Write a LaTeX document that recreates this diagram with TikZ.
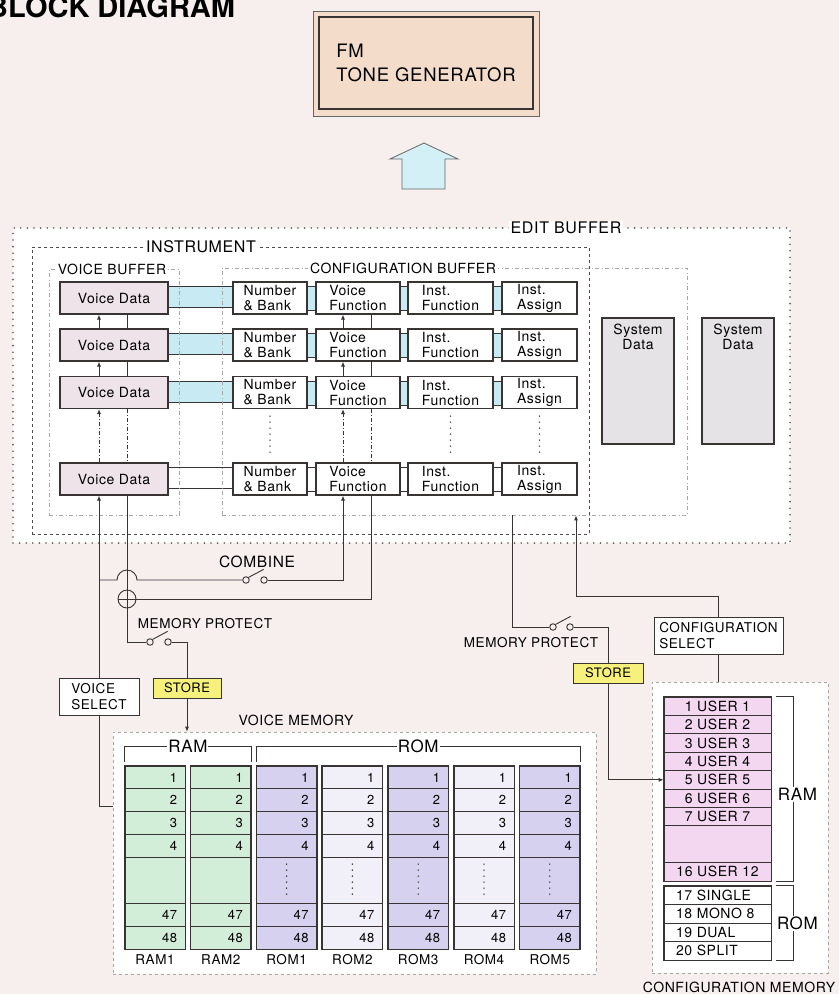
\documentclass[tikz,border=0pt]{standalone}
\usepackage{fontspec}
\setmainfont{TeX Gyre Heros}[LetterSpace=4]
\usepackage{xcolor}
\usepackage{tikz}
\usetikzlibrary{arrows.meta}
\definecolor{pagebg}{HTML}{F7EEEE}
\definecolor{linec}{HTML}{383434}
\definecolor{fmfill}{HTML}{F4DCCB}
\definecolor{upfill}{HTML}{D3F0F7}
\definecolor{vdfill}{HTML}{EDE3E9}
\definecolor{linkblue}{HTML}{C8EBF3}
\definecolor{sysfill}{HTML}{E6E3E7}
\definecolor{storefill}{HTML}{F5F17C}
\definecolor{ramgreen}{HTML}{D3EED8}
\definecolor{romdark}{HTML}{D6D1EE}
\definecolor{romlight}{HTML}{F1EFF8}
\definecolor{cfgpink}{HTML}{F3D6EF}
\newcommand{\setsz}[2]{\fontsize{#1}{#2}\selectfont}

\begin{document}
\begin{tikzpicture}[
  x=1pt, y=-1pt,
  font=\setsz{14}{15},
  >={Latex[length=5pt,width=4pt]},
  wire/.style={draw=linec, line width=0.9pt},
  dashdot/.style={dash pattern=on 4pt off 2pt on 1pt off 2pt},
  box/.style={draw=linec, line width=1.1pt, minimum height=32pt, inner sep=0pt, align=left},
  vdbox/.style={box, fill=vdfill, minimum width=108pt, align=center},
  fnbox/.style={box, fill=white},
  sysbox/.style={draw=linec, line width=1.1pt, fill=sysfill, minimum width=72pt,
    minimum height=126pt},
  editframe/.style={draw=black!65, fill=white, line width=1.8pt, line cap=round,
    dash pattern=on 0pt off 6.6pt, inner sep=0pt},
  instframe/.style={draw=black!70, line width=0.7pt, dash pattern=on 3pt off 3pt, inner sep=0pt},
  bufframe/.style={draw=black!35, line width=0.7pt,
    dash pattern=on 4pt off 2.5pt on 1pt off 2.5pt, inner sep=0pt},
  memframe/.style={draw=black!35, fill=white, line width=0.7pt,
    dash pattern=on 3pt off 3pt, inner sep=0pt},
  framelabel/.style={fill=white, inner xsep=2pt, inner ysep=1pt},
  selbox/.style={draw=linec, line width=1pt, fill=white, align=left, inner xsep=5pt,
    font=\setsz{13.5}{16}},
  storebox/.style={draw=linec, line width=1pt, fill=storefill, minimum width=68pt,
    minimum height=20pt, inner sep=0pt, font=\setsz{13}{13}},
  contact/.style={circle, draw=linec, line width=0.9pt, fill=pagebg, minimum size=6.5pt,
    inner sep=0pt},
  lever/.style={wire},
  swlabel/.style={font=\setsz{13.5}{14}},
  dotcol/.style={draw=linec, line width=1.6pt, line cap=round, dash pattern=on 0pt off 6pt},
  memcell/.style={draw=linec, line width=0.8pt, minimum width=60pt, text width=44pt,
    inner xsep=8pt, inner ysep=0pt, align=right, font=\setsz{13}{13}},
  cfgcell/.style={draw=linec, line width=0.8pt, text width=83pt, inner xsep=12pt,
    inner ysep=0pt, minimum height=18.4pt, font=\setsz{14}{14}},
  brlabel/.style={fill=white, inner sep=1pt, font=\setsz{17}{17}},
  colframe/.style={draw=linec, line width=1.3pt}
]
  \fill[pagebg] (0,0) rectangle (839,994);
  \useasboundingbox (0,0) rectangle (839,994);

  \node[anchor=base west, inner sep=0pt,
    font=\bfseries\addfontfeature{LetterSpace=0}\setsz{29}{29}] (title) at (-13,17.3)
    {BLOCK DIAGRAM};

  \node[draw=black!60, line width=0.8pt, fill=fmfill, minimum width=226pt,
    minimum height=105pt] (fmframe) at (426,63.5) {};
  \node[draw=linec, line width=1.3pt, fill=fmfill, minimum width=214pt, minimum height=92pt,
    align=left, font=\setsz{18.5}{24}] (fmgen) at (426,63) {FM\\TONE GENERATOR};
  \draw[draw=black!60, line width=0.8pt, fill=upfill] (424,143) -- (458,159) -- (445,159)
    -- (445,189) -- (402,189) -- (402,159) -- (390,159) -- cycle;

  \node[editframe, minimum width=777pt, minimum height=315pt] (editbuf) at (401.5,385.5) {};

  \foreach \r/\y in {1/298, 2/345, 3/392.5, 4/479} {
    \node[vdbox] (vd\r) at (114,\y) {Voice Data};
    \node[fnbox, minimum width=74pt] (nb\r) at (270,\y) {Number\\\& Bank};
    \node[fnbox, minimum width=84pt] (vf\r) at (358,\y) {Voice\\Function};
    \node[fnbox, minimum width=85pt] (instf\r) at (450.5,\y) {Inst.\\Function};
    \node[fnbox, minimum width=75pt] (insta\r) at (539.5,\y) {Inst.\\Assign};
  }
  \node[sysbox, label={[anchor=north, align=center, yshift=-3pt]north:System\\Data}]
    (sys1) at (638,381) {};
  \node[sysbox, label={[anchor=north, align=center, yshift=-3pt]north:System\\Data}]
    (sys2) at (738,381) {};

  \foreach \r/\fc in {1/linkblue, 2/linkblue, 3/linkblue, 4/white} {
    \foreach \a/\b/\bt in {vd/nb/7, nb/vf/4, vf/instf/4, instf/insta/4} {
      \fill[\fc] ([yshift=-5pt]\a\r.north east) rectangle ([yshift=\bt pt]\b\r.south west);
      \draw[wire] ([yshift=-5pt]\a\r.north east) -- ([yshift=-5pt]\b\r.north west);
      \draw[wire] ([yshift=\bt pt]\a\r.south east) -- ([yshift=\bt pt]\b\r.south west);
    }
  }

  \node[instframe, minimum width=557pt, minimum height=287pt] (instr) at (310.5,390.5) {};
  \node[bufframe, minimum width=130pt, minimum height=246pt] (voicebuf) at (114,392) {};
  \node[bufframe, minimum width=465pt, minimum height=247pt] (confbuf) at (454.5,391.5) {};
  \node[framelabel, font=\setsz{16}{16}] (editlab) at (566,228) {EDIT BUFFER};
  \node[framelabel, font=\setsz{16}{16}] (instlab) at (201,247) {INSTRUMENT};
  \node[framelabel] (vblab) at (112,269) {VOICE BUFFER};
  \node[framelabel] (cblabel) at (403,268) {CONFIGURATION BUFFER};

  \foreach \col in {vd, vf} {
    \foreach \u/\l in {1/2, 2/3} {
      \draw[wire,->] ([xshift=-15pt]\col\l.north) -- ([xshift=-15pt]\col\u.south);
      \draw[wire] ([xshift=13pt]\col\u.south) -- ([xshift=13pt]\col\l.north);
    }
    \draw[wire, dashdot, ->] ([xshift=-15pt]\col4.north) -- ([xshift=-15pt]\col3.south);
    \draw[wire, dashdot] ([xshift=13pt]\col3.south) -- ([xshift=13pt]\col4.north);
  }
  \foreach \col in {nb, instf, insta}
    \draw[dotcol] ([yshift=-7pt]\col3.south) -- ([yshift=10pt]\col4.north);

  % voice memory
  \node[memframe, minimum width=483pt, minimum height=242pt] (vmem) at (354.5,853) {};
  \node[font=\setsz{14}{14}] (vmemlab) at (296,720) {VOICE MEMORY};
  \foreach \nm/\colr [count=\c from 0] in {RAM1/ramgreen, RAM2/ramgreen, ROM1/romdark,
      ROM2/romlight, ROM3/romdark, ROM4/romlight, ROM5/romdark} {
    \pgfmathsetmacro{\cx}{155+65.8*\c}
    \foreach \n/\j in {1/0, 2/1, 3/2, 4/3, 47/6, 48/7}
      \node[memcell, fill=\colr, minimum height=22.875pt] (m\c-\n) at (\cx,777.4+22.875*\j) {\n};
    \node[memcell, fill=\colr, minimum height=45.75pt] (m\c-mid) at (\cx,880.4) {};
    \draw[colframe] (m\c-1.north west) rectangle (m\c-48.south east);
    \node[font=\setsz{13.5}{14}] (lab\c) at (\cx,960) {\nm};
  }
  \foreach \c in {2,...,6}
    \draw[dotcol] ([yshift=-7pt]m\c-mid.north) -- ([yshift=6pt]m\c-mid.south);
  \draw[wire] ([yshift=4pt]m0-1.north west) -- ([yshift=19pt]m0-1.north west)
    -- node[brlabel] {RAM} ([yshift=19pt]m1-1.north east) -- ([yshift=4pt]m1-1.north east);
  \draw[wire] ([yshift=4pt]m2-1.north west) -- ([yshift=19pt]m2-1.north west)
    -- node[brlabel] {ROM} ([yshift=19pt]m6-1.north east) -- ([yshift=4pt]m6-1.north east);

  % configuration memory
  \node[memframe, minimum width=176pt, minimum height=291pt] (cmem) at (740,827.5) {};
  \node[font=\setsz{14}{14}] (cmemlab) at (739,987) {CONFIGURATION MEMORY};
  \foreach \i in {1,...,7}
    \node[cfgcell, fill=cfgpink, align=center] (cu\i) at (717.5,687.8+18.4*\i) {\i\ USER \i};
  \node[cfgcell, fill=cfgpink, minimum height=36.8pt] (cugap) at (717.5,844.2) {};
  \node[cfgcell, fill=cfgpink, align=center] (cu16) at (717.5,871.8) {16 USER 12};
  \foreach \i/\t in {17/SINGLE, 18/MONO 8, 19/DUAL, 20/SPLIT}
    \node[cfgcell, fill=white, align=left, minimum height=18.5pt] (cr\i)
      at (717.5,895.25+18.5*\i-314.5) {\i\ \t};
  \draw[colframe] (cu1.north west) rectangle (cu16.south east);
  \draw[colframe] (cr17.north west) rectangle (cr20.south east);
  \draw[wire] ([xshift=5pt]cu1.north east) -- ([xshift=22pt]cu1.north east)
    -- node[brlabel, pos=0.53, xshift=4pt] {RAM} ([xshift=22pt]cu16.south east)
    -- ([xshift=5pt]cu16.south east);
  \draw[wire] ([xshift=5pt]cr17.north east) -- ([xshift=22pt]cr17.north east)
    -- node[brlabel, xshift=4pt] {ROM} ([xshift=22pt]cr20.south east)
    -- ([xshift=5pt]cr20.south east);

  % selects, switches and stores
  \node[selbox, minimum width=80pt, minimum height=37pt] (vsel) at (99,696.5) {VOICE\\SELECT};
  \node[storebox] (store1) at (187,688) {STORE};
  \node[contact] (mpa) at (150,642) {};
  \node[contact] (mpb) at (168,642) {};
  \node[swlabel] (mplab) at (205,624) {MEMORY PROTECT};
  \node[circle, draw=linec, line width=0.9pt, fill=pagebg, minimum size=18pt, inner sep=0pt,
    path picture={\draw[linec, line width=0.8pt]
      (path picture bounding box.north) -- (path picture bounding box.south)
      (path picture bounding box.west) -- (path picture bounding box.east);}] (mix) at (127,599) {};
  \node[contact] (cba) at (246,580) {};
  \node[contact] (cbb) at (264,580) {};
  \node[font=\setsz{15.5}{16}] (cblab) at (257,562) {COMBINE};

  \node[contact] (mqa) at (553,627) {};
  \node[contact] (mqb) at (570,627) {};
  \node[swlabel] (mqlab) at (531,643) {MEMORY PROTECT};
  \node[storebox, minimum width=70pt] (store2) at (608,673) {STORE};
  \node[selbox, minimum width=129pt, minimum height=37pt] (cfgsel) at (718.5,635.5)
    {CONFIGURATION\\SELECT};

  \coordinate (vsturn) at (99,806);
  \coordinate (cbjoin) at (99,580);
  \coordinate (cbout) at (512,515);
  \coordinate (csturn) at (576,596);

  \draw[wire] (vmem.west |- vsturn) -- (vsturn) -- (vsel.south);
  \draw[wire,->] (vsel.north) -- ([xshift=-15pt]vd4.south);
  \draw[wire] (cbjoin) -- ++(18,0) arc[start angle=180, end angle=0, radius=10pt] -- (cba.west);
  \draw[lever] (cba.north east) -- ++(15,-8);
  \draw[wire,->] (cbb.east) -| ([xshift=-15pt]vf4.south);
  \draw[wire] ([xshift=13pt]vd4.south) -- (mix.north);
  \draw[wire] (mix.east) -| ([xshift=13pt]vf4.south);
  \draw[wire] (mix.south) |- (mpa.west);
  \draw[lever] (mpa.north east) -- ++(15,-8);
  \draw[wire] (mpb.east) -| (store1.north);
  \draw[wire,->] (store1.south) -- (store1.south |- vmem.north);

  \draw[wire] (cbout) |- (mqa.west);
  \draw[lever] (mqa.north east) -- ++(15,-8);
  \draw[wire] (mqb.east) -| (store2.north);
  \draw[wire,->] (store2.south) |- (cu5.west);
  \draw[wire,->] (cfgsel.north) |- (csturn) -- (csturn |- confbuf.south);
  \draw[wire] (cfgsel.south) -- (cfgsel.south |- cmem.north);
\end{tikzpicture}
\end{document}
